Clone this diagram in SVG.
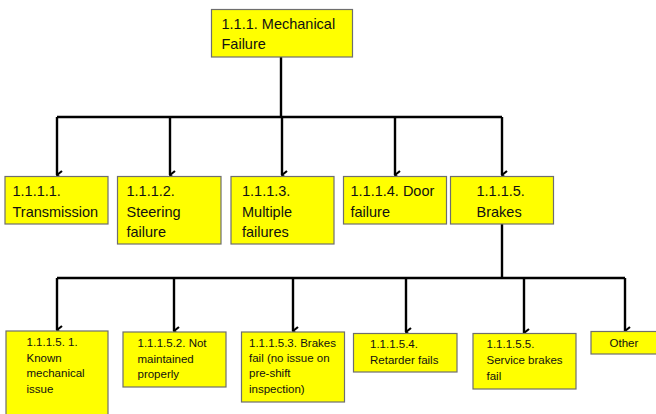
<svg xmlns="http://www.w3.org/2000/svg" width="656" height="414" viewBox="0 0 656 414">
<style>
.box{fill:#ffff00;stroke:#6e6e6e;stroke-width:1.2}
.t{font-family:"Liberation Sans",Arial,sans-serif;font-size:14.5px;fill:#111}
.s{font-family:"Liberation Sans",Arial,sans-serif;font-size:11.5px;fill:#111}
.c{fill:none;stroke:#000;stroke-width:2.4}
</style>
<defs>
<marker id="ah" viewBox="0 0 10 10" refX="5" refY="9" markerWidth="10" markerHeight="10" markerUnits="userSpaceOnUse" orient="auto-start-reverse">
<polyline points="1,4 5,9 9,4" fill="none" stroke="#000" stroke-width="2.2"/>
</marker>
</defs>
<rect width="656" height="414" fill="#fff"/>
<g id="connectors">
<path class="c" d="M281,57 V117"/>
<path class="c" d="M57,117 H502"/>
<path class="c" d="M57,117 V175" marker-end="url(#ah)"/>
<path class="c" d="M170,117 V175" marker-end="url(#ah)"/>
<path class="c" d="M282,117 V175" marker-end="url(#ah)"/>
<path class="c" d="M395,117 V175" marker-end="url(#ah)"/>
<path class="c" d="M502,117 V175" marker-end="url(#ah)"/>
<path class="c" d="M502,224 V278"/>
<path class="c" d="M57,278 H625"/>
<path class="c" d="M57,278 V330" marker-end="url(#ah)"/>
<path class="c" d="M174,278 V331" marker-end="url(#ah)"/>
<path class="c" d="M293,278 V331" marker-end="url(#ah)"/>
<path class="c" d="M406,278 V332" marker-end="url(#ah)"/>
<path class="c" d="M524,278 V333" marker-end="url(#ah)"/>
<path class="c" d="M625,278 V331" marker-end="url(#ah)"/>
</g>
<g id="n_root">
<rect class="box" x="211.5" y="9.5" width="141" height="47.5"/>
<text class="t" x="221.5" y="28.5">1.1.1. Mechanical</text>
<text class="t" x="221.5" y="48.5">Failure</text>
</g>
<g id="n_1111">
<rect class="box" x="5" y="176.5" width="103" height="47.5"/>
<text class="t" x="12.5" y="195.5">1.1.1.1.</text>
<text class="t" x="12.5" y="216.5">Transmission</text>
</g>
<g id="n_1112">
<rect class="box" x="117.5" y="176.5" width="103.5" height="67.5"/>
<text class="t" x="126.5" y="195.5">1.1.1.2.</text>
<text class="t" x="126.5" y="216.5">Steering</text>
<text class="t" x="126.5" y="236.5">failure</text>
</g>
<g id="n_1113">
<rect class="box" x="231" y="176.5" width="103" height="67.5"/>
<text class="t" x="242" y="195.5">1.1.1.3.</text>
<text class="t" x="242" y="216.5">Multiple</text>
<text class="t" x="242" y="236.5">failures</text>
</g>
<g id="n_1114">
<rect class="box" x="343.5" y="176.5" width="103" height="47.5"/>
<text class="t" x="350.5" y="195.5">1.1.1.4. Door</text>
<text class="t" x="350.5" y="216.5">failure</text>
</g>
<g id="n_1115">
<rect class="box" x="450.5" y="176.5" width="103" height="47.5"/>
<text class="t" x="476.5" y="195.5">1.1.1.5.</text>
<text class="t" x="476.5" y="216.5">Brakes</text>
</g>
<g id="n_11151">
<rect class="box" x="6" y="331" width="102" height="90"/>
<text class="s" x="26.5" y="346">1.1.1.5. 1.</text>
<text class="s" x="26.5" y="362">Known</text>
<text class="s" x="26.5" y="377">mechanical</text>
<text class="s" x="26.5" y="392.5">issue</text>
</g>
<g id="n_11152">
<rect class="box" x="123" y="332" width="103" height="55"/>
<text class="s" x="137.5" y="347">1.1.1.5.2. Not</text>
<text class="s" x="137.5" y="363">maintained</text>
<text class="s" x="137.5" y="377.5">properly</text>
</g>
<g id="n_11153">
<rect class="box" x="241.5" y="332" width="103" height="70"/>
<text class="s" x="249" y="346.5">1.1.1.5.3. Brakes</text>
<text class="s" x="249" y="362">fail (no issue on</text>
<text class="s" x="249" y="377">pre-shift</text>
<text class="s" x="249" y="392.5">inspection)</text>
</g>
<g id="n_11154">
<rect class="box" x="353.5" y="333.5" width="103.5" height="38.5"/>
<text class="s" x="370" y="348">1.1.1.5.4.</text>
<text class="s" x="370" y="363.5">Retarder fails</text>
</g>
<g id="n_11155">
<rect class="box" x="473" y="333.5" width="103" height="55.5"/>
<text class="s" x="486.5" y="348">1.1.1.5.5.</text>
<text class="s" x="486.5" y="363.5">Service brakes</text>
<text class="s" x="486.5" y="380">fail</text>
</g>
<g id="n_other">
<rect class="box" x="591" y="331.5" width="70" height="22.5"/>
<text class="s" x="609.5" y="346.5">Other</text>
</g>
</svg>
